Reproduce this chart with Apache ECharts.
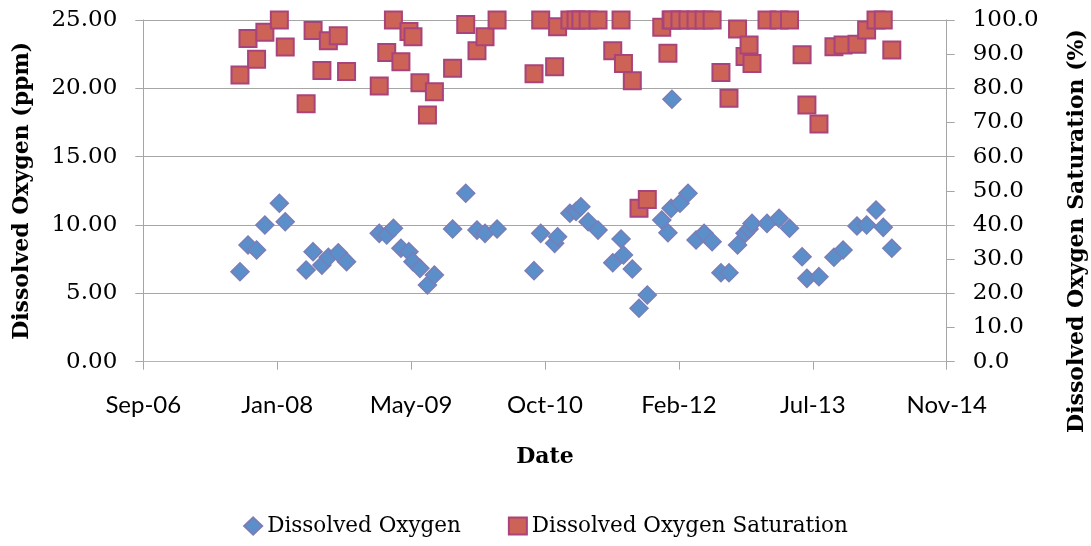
<!DOCTYPE html>
<html>
<head>
<meta charset="utf-8">
<script src="https://cdn.jsdelivr.net/npm/echarts@6/dist/echarts.min.js"></script>
<style>
  html, body { margin: 0; padding: 0; background: #fff; }
  #chart { width: 1091px; height: 546px; }
</style>
</head>
<body>
<div id="chart"></div>
<script>
// Sampling dates and measured values
const sampleDates = [
  '2007-08-28','2007-09-27','2007-10-29','2007-11-29','2008-01-22','2008-02-13',
  '2008-05-01','2008-05-27','2008-06-29','2008-07-23','2008-08-29','2008-09-29',
  '2009-01-29','2009-02-26','2009-03-23','2009-04-20','2009-05-20','2009-06-04',
  '2009-06-30','2009-07-28','2009-08-23','2009-10-30','2009-12-18','2010-01-29',
  '2010-02-28','2010-04-14','2010-08-30','2010-09-24','2010-11-15','2010-11-26',
  '2011-01-11','2011-02-03','2011-02-21','2011-03-20','2011-04-26','2011-06-20',
  '2011-07-21','2011-07-30','2011-09-01','2011-09-26','2011-10-27','2011-12-20',
  '2012-01-12','2012-01-24','2012-01-27','2012-02-26','2012-03-27','2012-04-26',
  '2012-05-26','2012-06-25','2012-07-28','2012-08-27','2012-09-28','2012-10-26',
  '2012-11-10','2012-11-21','2013-01-16','2013-03-02','2013-04-10','2013-05-27',
  '2013-06-14','2013-07-29','2013-09-23','2013-10-27','2013-12-18','2014-01-23',
  '2014-02-27','2014-03-26','2014-04-27'
];

// Dissolved oxygen, ppm
const dissolvedOxygen = [
  6.58, 8.54, 8.17, 10.0, 11.59, 10.24,
  6.71, 8.05, 7.07, 7.64, 7.97, 7.32,
  9.39, 9.27, 9.76, 8.30, 8.05, 7.32,
  6.83, 5.61, 6.34, 9.71, 12.32, 9.63,
  9.39, 9.71, 6.66, 9.39, 8.66, 9.14,
  10.86, 11.0, 11.34, 10.24, 9.63, 7.24,
  8.98, 7.81, 6.78, 3.91, 4.88, 10.37,
  9.44, 11.22, 19.2, 11.59, 12.32, 8.90,
  9.39, 8.78, 6.51, 6.51, 8.54, 9.39,
  9.70, 10.12, 10.12, 10.49, 9.76, 7.68,
  6.10, 6.22, 7.64, 8.17, 9.93, 10.0,
  11.1, 9.83, 8.30
];

// Dissolved oxygen saturation, %
const saturation = [
  83.9, 94.6, 88.5, 96.4, 100, 92.1,
  75.5, 96.9, 85.2, 93.9, 95.4, 84.9,
  80.7, 90.5, 100, 87.8, 96.6, 95.1,
  81.6, 72.2, 79.0, 85.9, 98.7, 91.0,
  95.1, 100, 84.3, 100, 86.3, 98.0,
  100, 100, 100, 100, 100, 91.0,
  100, 87.3, 82.2, 44.9, 47.5, 97.9,
  90.3, 100, 100, 100, 100, 100,
  100, 100, 84.6, 77.1, 97.4, 89.3,
  92.7, 87.3, 100, 100, 100, 89.8,
  75.1, 69.6, 92.2, 92.7, 92.9, 97.1,
  100, 100, 91.2
];

// Date axis: days counted from the axis origin, major step of 500 days
const axisOrigin = '2006-09-01';
const axisSpanDays = 3000;
const axisStepDays = 500;

const MONTHS = ['Jan','Feb','Mar','Apr','May','Jun','Jul','Aug','Sep','Oct','Nov','Dec'];
const DAY_MS = 86400000;
function toUTC(s) {
  const p = s.split('-').map(Number);
  return Date.UTC(p[0], p[1] - 1, p[2]);
}
const originMs = toUTC(axisOrigin);
function dayOffset(s) { return Math.round((toUTC(s) - originMs) / DAY_MS); }
function monthLabel(days) {
  const d = new Date(originMs + days * DAY_MS);
  return MONTHS[d.getUTCMonth()] + '-' + String(d.getUTCFullYear() % 100).padStart(2, '0');
}

const doPoints = sampleDates.map((d, i) => [dayOffset(d), dissolvedOxygen[i]]);
const satPoints = sampleDates.map((d, i) => [dayOffset(d), saturation[i]]);

const serif = 'DejaVu Serif';
const sans = 'Lato';
const axisGray = '#A6A6A6';

const chart = echarts.init(document.getElementById('chart'), null, { renderer: 'canvas' });
chart.setOption({
  backgroundColor: '#ffffff',
  animation: false,
  grid: { left: 143.3, right: 144.3, top: 20, bottom: 184.3, containLabel: false },
  legend: {
    bottom: 4,
    left: 'center',
    itemWidth: 18,
    itemHeight: 17,
    itemGap: 47,
    textStyle: { fontFamily: serif, fontSize: 21.5, color: '#000' },
    data: [
      { name: 'Dissolved Oxygen', icon: 'diamond' },
      { name: 'Dissolved Oxygen Saturation', icon: 'rect' }
    ]
  },
  xAxis: {
    type: 'value',
    min: 0,
    max: axisSpanDays,
    interval: axisStepDays,
    name: 'Date',
    nameLocation: 'middle',
    nameGap: 85,
    nameTextStyle: { fontFamily: serif, fontSize: 22, fontWeight: 'bold', color: '#000' },
    axisLine: { show: true, onZero: false, lineStyle: { color: '#B5B5B5', width: 1 } },
    axisTick: { show: true, inside: false, length: 8, lineStyle: { color: axisGray } },
    axisLabel: {
      margin: 32,
      fontFamily: sans,
      fontSize: 24,
      color: '#000',
      formatter: v => monthLabel(v)
    },
    splitLine: { show: false }
  },
  yAxis: [
    {
      type: 'value',
      position: 'left',
      min: 0,
      max: 25,
      interval: 5,
      name: 'Dissolved Oxygen (ppm)',
      nameLocation: 'middle',
      nameRotate: 90,
      nameGap: 110,
      nameTextStyle: { fontFamily: serif, fontSize: 22, fontWeight: 'bold', color: '#000' },
      axisLine: { show: true, lineStyle: { color: axisGray } },
      axisTick: { show: true, inside: false, length: 8, lineStyle: { color: axisGray } },
      axisLabel: {
        margin: 26,
        fontFamily: serif,
        fontSize: 23,
        color: '#000',
        formatter: v => v.toFixed(2)
      },
      splitLine: { show: true, lineStyle: { color: axisGray, width: 1 } }
    },
    {
      type: 'value',
      position: 'right',
      min: 0,
      max: 100,
      interval: 10,
      axisLine: { show: true, lineStyle: { color: axisGray } },
      axisTick: { show: true, inside: false, length: 8, lineStyle: { color: axisGray } },
      axisLabel: {
        margin: 26,
        fontFamily: serif,
        fontSize: 23,
        color: '#000',
        formatter: v => v.toFixed(1)
      },
      splitLine: { show: false }
    }
  ],
  graphic: [
    {
      type: 'text',
      x: 1077,
      y: 231,
      rotation: Math.PI / 2,
      style: {
        text: 'Dissolved Oxygen Saturation (%)',
        fontFamily: serif,
        fontSize: 22,
        fontWeight: 'bold',
        fill: '#000',
        align: 'center',
        verticalAlign: 'middle'
      }
    }
  ],
  series: [
    {
      name: 'Dissolved Oxygen',
      type: 'scatter',
      yAxisIndex: 0,
      symbol: 'diamond',
      symbolSize: 18,
      itemStyle: { color: '#5B8FC9', borderColor: '#7A7DB8', borderWidth: 1.5, opacity: 1 },
      data: doPoints
    },
    {
      name: 'Dissolved Oxygen Saturation',
      type: 'scatter',
      yAxisIndex: 1,
      symbol: 'rect',
      symbolSize: 17,
      itemStyle: { color: '#CC6356', borderColor: '#A9437B', borderWidth: 2, opacity: 1 },
      data: satPoints
    }
  ]
});
</script>
</body>
</html>
